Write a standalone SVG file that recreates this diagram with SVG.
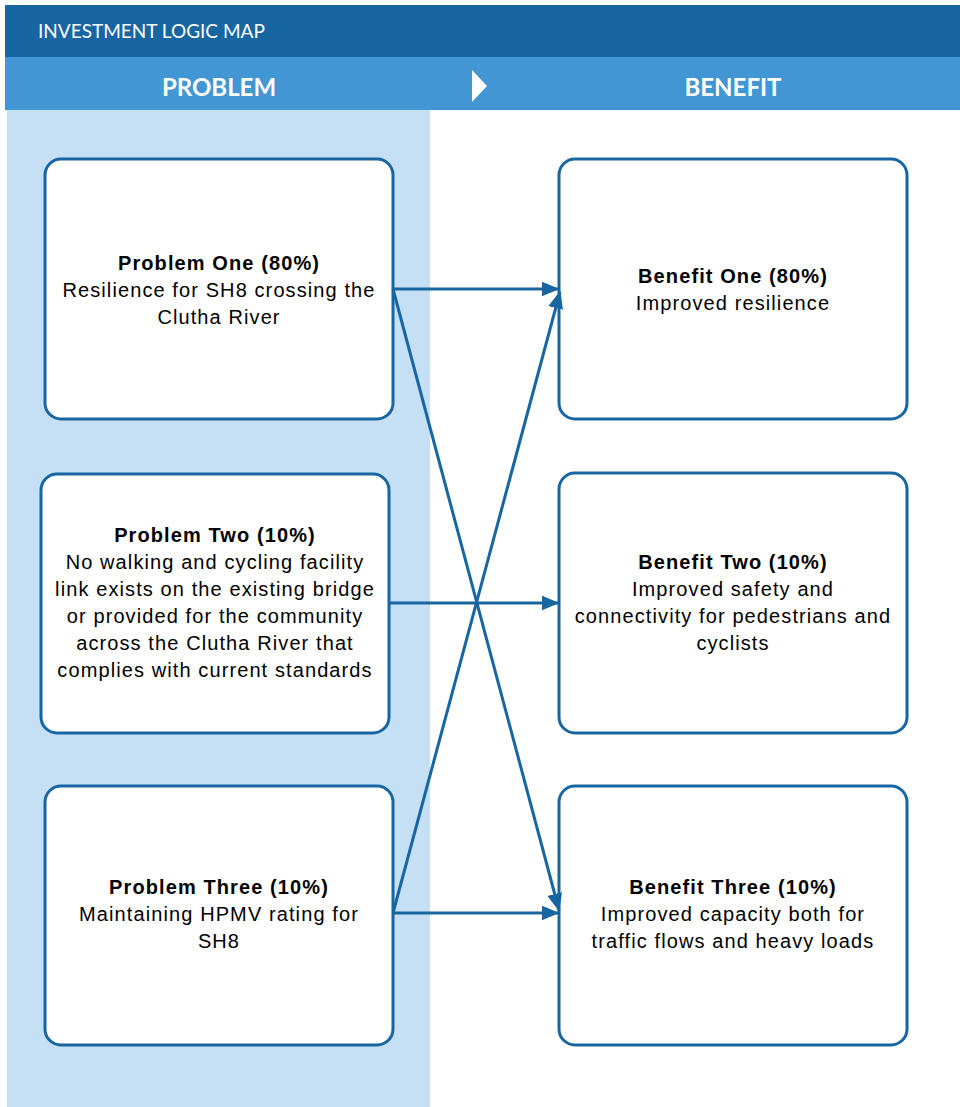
<svg xmlns="http://www.w3.org/2000/svg" width="960" height="1107" viewBox="0 0 960 1107">
<style>
.box{fill:#fff;stroke:#1866A1;stroke-width:3}
.t{font-family:"Liberation Sans",Arial,sans-serif;font-size:20px;letter-spacing:1.1px;fill:#000;text-anchor:middle}
.b{font-weight:bold}
.hd{font-family:Lato,"Open Sans",sans-serif;fill:#fff}
.c{stroke:#1866A1;stroke-width:3;fill:none;marker-end:url(#ah)}
</style>
<defs>
<marker id="ah" markerWidth="6" markerHeight="5" refX="5.5" refY="2.5" orient="auto" markerUnits="strokeWidth">
<path d="M0,0 L6,2.5 L0,5 Z" fill="#1866A1"/>
</marker>
</defs>
<rect x="0" y="0" width="960" height="1107" fill="#fff"/>
<g id="header">
<rect x="5" y="5" width="955" height="52" fill="#1866A1"/>
<text class="hd" x="38" y="38" font-size="19">INVESTMENT LOGIC MAP</text>
<rect x="5" y="57" width="955" height="53" fill="#4296D4"/>
<text class="hd" x="219" y="96" font-size="24" font-weight="bold" text-anchor="middle">PROBLEM</text>
<text class="hd" x="733" y="96" font-size="24" font-weight="bold" text-anchor="middle">BENEFIT</text>
<path d="M472,70 L487,86 L472,102 Z" fill="#fff"/>
</g>
<rect x="7" y="110" width="423" height="997" fill="#C5DFF4"/>
<g id="p1">
<rect class="box" x="45" y="159" width="348" height="260" rx="16"/>
<text class="t b" x="219" y="270">Problem One (80%)</text>
<text class="t" x="219" y="297">Resilience for SH8 crossing the</text>
<text class="t" x="219" y="324">Clutha River</text>
</g>
<g id="p2">
<rect class="box" x="41" y="474" width="348" height="259" rx="16"/>
<text class="t b" x="215" y="542">Problem Two (10%)</text>
<text class="t" x="215" y="569">No walking and cycling facility</text>
<text class="t" x="215" y="596">link exists on the existing bridge</text>
<text class="t" x="215" y="623">or provided for the community</text>
<text class="t" x="215" y="650">across the Clutha River that</text>
<text class="t" x="215" y="677">complies with current standards</text>
</g>
<g id="p3">
<rect class="box" x="45" y="786" width="348" height="259" rx="16"/>
<text class="t b" x="219" y="894">Problem Three (10%)</text>
<text class="t" x="219" y="921">Maintaining HPMV rating for</text>
<text class="t" x="219" y="948">SH8</text>
</g>
<g id="b1">
<rect class="box" x="559" y="159" width="348" height="260" rx="16"/>
<text class="t b" x="733" y="283">Benefit One (80%)</text>
<text class="t" x="733" y="310">Improved resilience</text>
</g>
<g id="b2">
<rect class="box" x="559" y="473" width="348" height="260" rx="16"/>
<text class="t b" x="733" y="569">Benefit Two (10%)</text>
<text class="t" x="733" y="596">Improved safety and</text>
<text class="t" x="733" y="623">connectivity for pedestrians and</text>
<text class="t" x="733" y="650">cyclists</text>
</g>
<g id="b3">
<rect class="box" x="559" y="786" width="348" height="259" rx="16"/>
<text class="t b" x="733" y="894">Benefit Three (10%)</text>
<text class="t" x="733" y="921">Improved capacity both for</text>
<text class="t" x="733" y="948">traffic flows and heavy loads</text>
</g>
<g id="connectors">
<line class="c" x1="393" y1="289" x2="558" y2="289"/>
<line class="c" x1="393" y1="289" x2="559" y2="910"/>
<line class="c" x1="389" y1="603" x2="558" y2="603"/>
<line class="c" x1="393" y1="913" x2="560" y2="292"/>
<line class="c" x1="393" y1="913" x2="558" y2="913"/>
</g>
</svg>
